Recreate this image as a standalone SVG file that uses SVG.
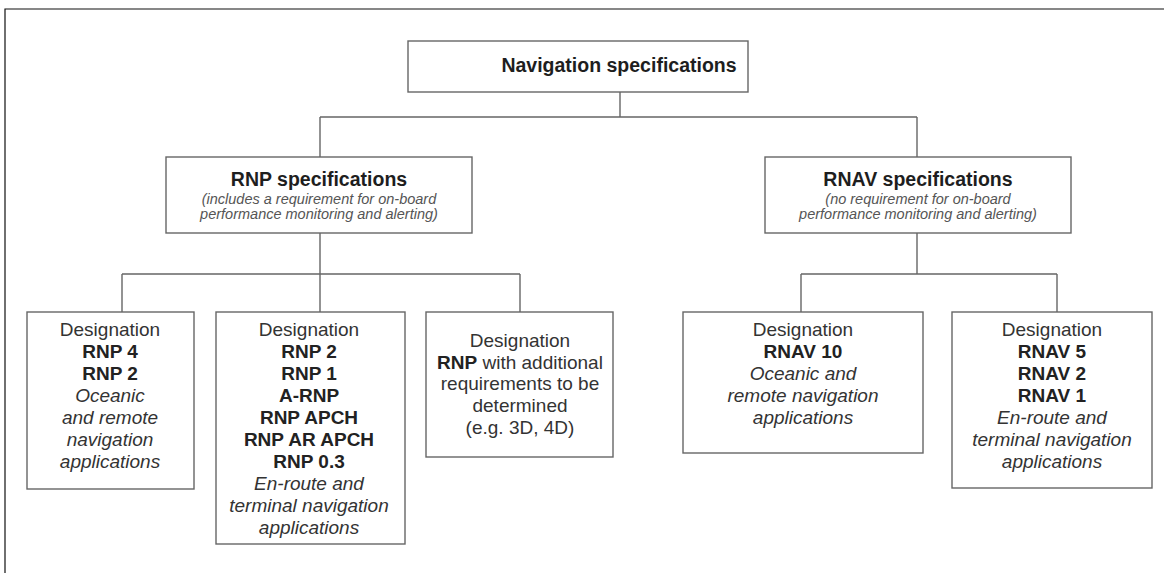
<svg xmlns="http://www.w3.org/2000/svg" width="1164" height="573" viewBox="0 0 1164 573">
<style>
.box{fill:#fff;stroke:#666;stroke-width:1.4}
.ln{fill:none;stroke:#666;stroke-width:1.4}
text{font-family:"Liberation Sans",Arial,sans-serif;text-anchor:middle}
.t{font-size:19.5px;font-weight:bold;fill:#1e1e1e}
.s{font-size:14.5px;font-style:italic;fill:#555}
.r{font-size:19px;fill:#333}
.b{font-size:19px;font-weight:bold;fill:#222}
.i{font-size:19px;font-style:italic;fill:#333}
</style>
<rect width="1164" height="573" fill="#fff"/>
<path d="M5,573 V9 H1164" fill="none" stroke="#111" stroke-width="1.2"/>
<g id="connectors">
<path class="ln" d="M620,92 V117 M320,117 H917 M320,117 V157 M917,117 V157"/>
<path class="ln" d="M320,233 V274 M122,274 H520 M122,274 V312 M320,274 V312 M520,274 V312"/>
<path class="ln" d="M917,233 V274 M801,274 H1057 M801,274 V312 M1057,274 V312"/>
</g>
<g id="nav">
<rect class="box" x="408" y="41" width="340" height="51"/>
<text class="t" x="619" y="72">Navigation specifications</text>
</g>
<g id="rnp">
<rect class="box" x="166" y="157" width="306" height="76"/>
<text class="t" x="319" y="186">RNP specifications</text>
<text class="s" x="319" y="204">(includes a requirement for on-board</text>
<text class="s" x="319" y="218.5">performance monitoring and alerting)</text>
</g>
<g id="rnav">
<rect class="box" x="765" y="157" width="306" height="76"/>
<text class="t" x="918" y="186">RNAV specifications</text>
<text class="s" x="918" y="204">(no requirement for on-board</text>
<text class="s" x="918" y="218.5">performance monitoring and alerting)</text>
</g>
<g id="d1">
<rect class="box" x="27" y="312" width="167" height="177"/>
<text class="r" x="110" y="336">Designation</text>
<text class="b" x="110" y="358">RNP 4</text>
<text class="b" x="110" y="380">RNP 2</text>
<text class="i" x="110" y="402">Oceanic</text>
<text class="i" x="110" y="424">and remote</text>
<text class="i" x="110" y="446">navigation</text>
<text class="i" x="110" y="468">applications</text>
</g>
<g id="d2">
<rect class="box" x="216" y="312" width="189" height="232"/>
<text class="r" x="309" y="336">Designation</text>
<text class="b" x="309" y="358">RNP 2</text>
<text class="b" x="309" y="380">RNP 1</text>
<text class="b" x="309" y="402">A-RNP</text>
<text class="b" x="309" y="424">RNP APCH</text>
<text class="b" x="309" y="446">RNP AR APCH</text>
<text class="b" x="309" y="468">RNP 0.3</text>
<text class="i" x="309" y="490">En-route and</text>
<text class="i" x="309" y="512">terminal navigation</text>
<text class="i" x="309" y="534">applications</text>
</g>
<g id="d3">
<rect class="box" x="426" y="312" width="187" height="145"/>
<text class="r" x="520" y="347">Designation</text>
<text class="r" x="520" y="368.5"><tspan font-weight="bold" fill="#222">RNP</tspan> with additional</text>
<text class="r" x="520" y="390">requirements to be</text>
<text class="r" x="520" y="412">determined</text>
<text class="r" x="520" y="434">(e.g. 3D, 4D)</text>
</g>
<g id="d4">
<rect class="box" x="683" y="312" width="240" height="141"/>
<text class="r" x="803" y="336">Designation</text>
<text class="b" x="803" y="358">RNAV 10</text>
<text class="i" x="803" y="380">Oceanic and</text>
<text class="i" x="803" y="402">remote navigation</text>
<text class="i" x="803" y="424">applications</text>
</g>
<g id="d5">
<rect class="box" x="952" y="312" width="200" height="176"/>
<text class="r" x="1052" y="336">Designation</text>
<text class="b" x="1052" y="358">RNAV 5</text>
<text class="b" x="1052" y="380">RNAV 2</text>
<text class="b" x="1052" y="402">RNAV 1</text>
<text class="i" x="1052" y="424">En-route and</text>
<text class="i" x="1052" y="446">terminal navigation</text>
<text class="i" x="1052" y="468">applications</text>
</g>
</svg>
